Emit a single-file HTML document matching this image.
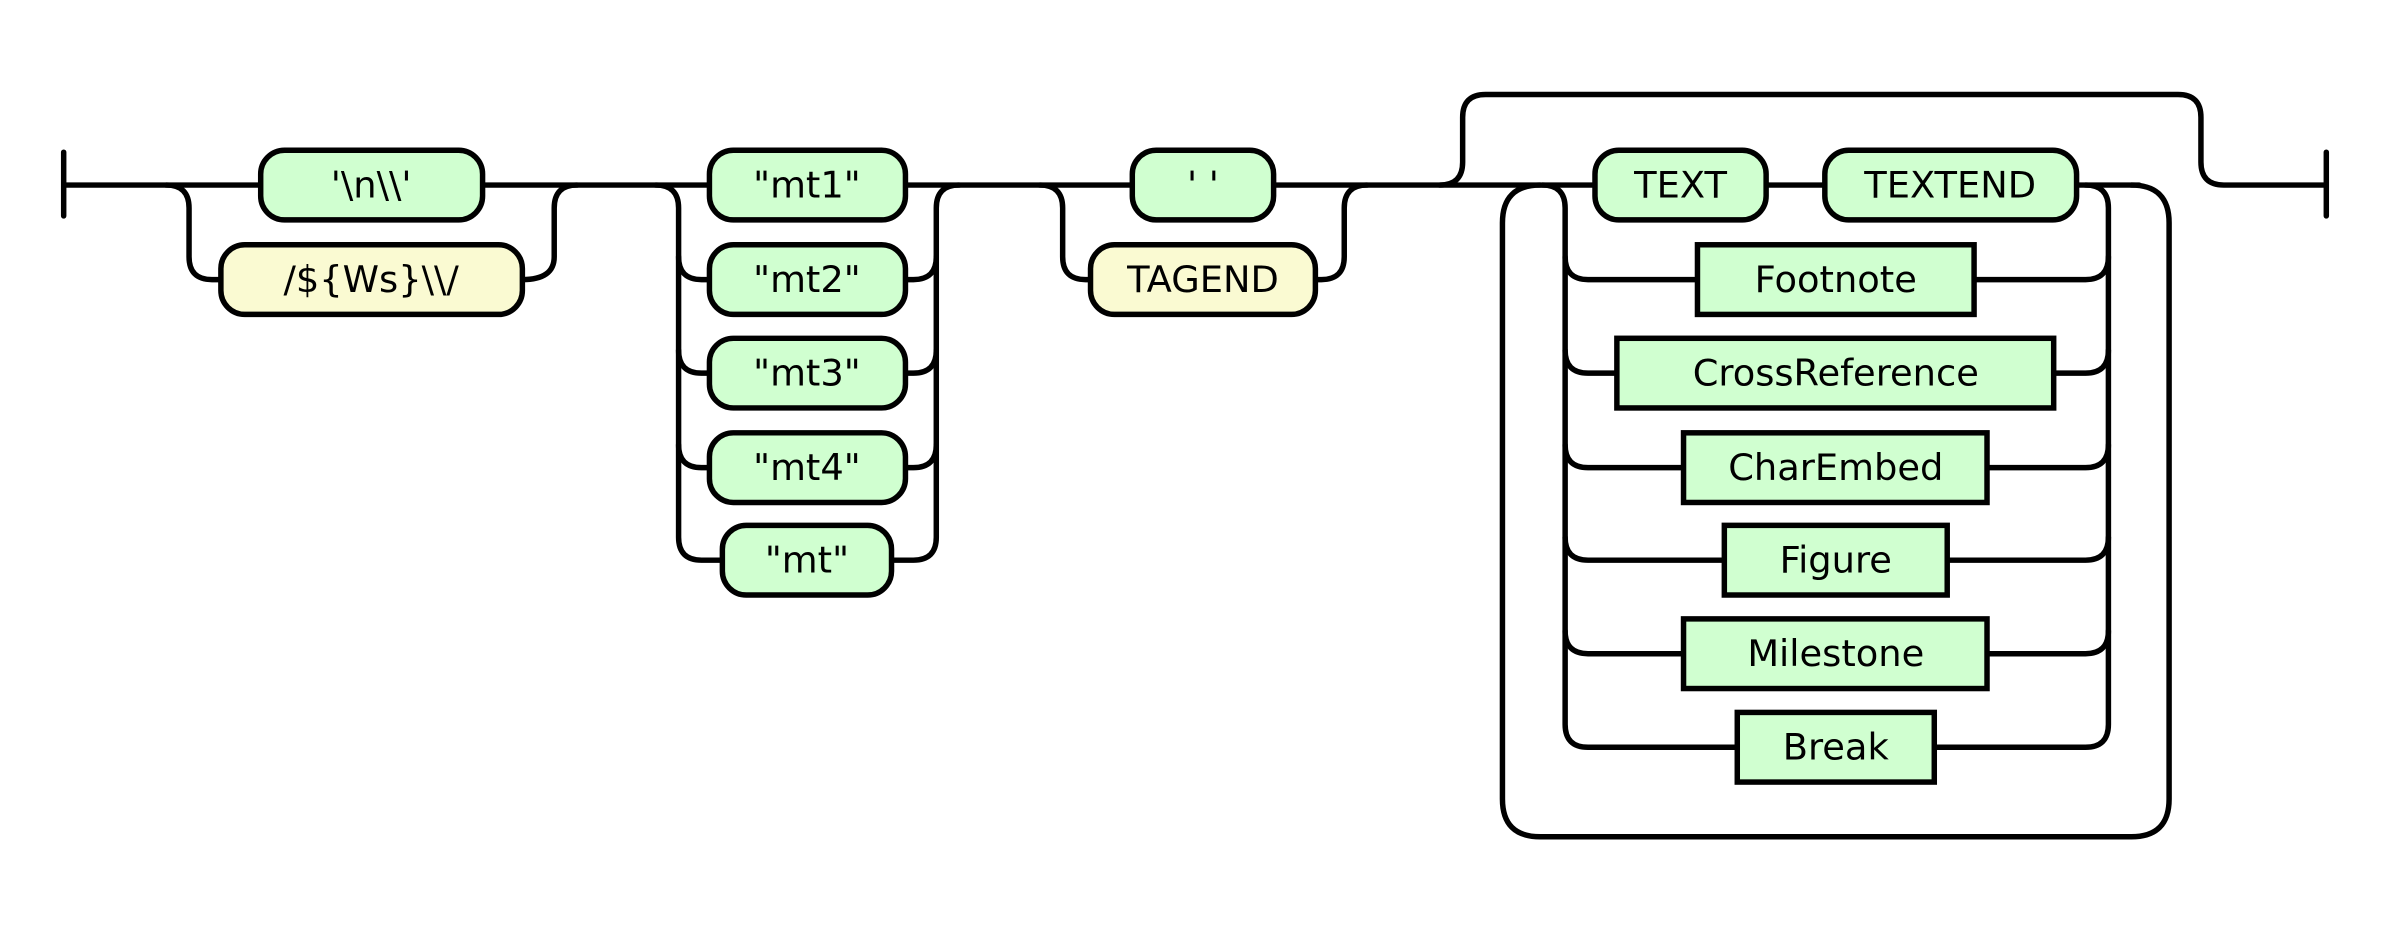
<!DOCTYPE html>
<html><head><meta charset="utf-8"><style>
html,body{margin:0;padding:0;background:#fff;}
svg{display:block}
text{font-family:"DejaVu Sans","Liberation Sans",sans-serif;font-size:37px;fill:#000;text-anchor:middle;dominant-baseline:central}
</style></head><body>
<svg width="2386" height="931" viewBox="0 0 2386 931" xmlns="http://www.w3.org/2000/svg">
<g transform="scale(0.995)">
<g fill="none" stroke="#000" stroke-width="5.5" stroke-linecap="round" stroke-linejoin="round">
<path d="M64 153 V217 M64 186 H262"/>
<path d="M485 186 H1138"/>
<path d="M167 186 Q190 186 190 209 V258 Q190 281 213 281 H222"/>
<path d="M525 281 Q557 281 557 258 V209 Q557 186 580 186"/>
<path d="M659 186 Q682 186 682 209 V540 Q682 563 705 563 H726"/>
<path d="M682 258 Q682 281 705 281 H713 M682 352 Q682 375 705 375 H713 M682 447 Q682 470 705 470 H713"/>
<path d="M896 563 H918 Q941 563 941 540 V209 Q941 186 964 186"/>
<path d="M910 281 H918 Q941 281 941 258 M910 375 H918 Q941 375 941 352 M910 470 H918 Q941 470 941 447"/>
<path d="M1280 186 H1603"/>
<path d="M1045 186 Q1068 186 1068 209 V258 Q1068 281 1091 281 H1096"/>
<path d="M1322 281 H1328 Q1351 281 1351 258 V209 Q1351 186 1374 186"/>
<path d="M1447 186 Q1470 186 1470 163 V118 Q1470 95 1493 95 H2189 Q2212 95 2212 118 V163 Q2212 186 2235 186 H2338 M2338 153 V217"/>
<path d="M1775 186 H1834 M2087 186 H2150"/>
<path d="M1550 186 Q1573 186 1573 209 V728 Q1573 751 1596 751 H1746"/>
<path d="M1573 258 Q1573 281 1596 281 H1706 M1573 352 Q1573 375 1596 375 H1625 M1573 447 Q1573 470 1596 470 H1692 M1573 540 Q1573 563 1596 563 H1733 M1573 634 Q1573 657 1596 657 H1692"/>
<path d="M2096 186 Q2119 186 2119 209 V728 Q2119 751 2096 751 H1944"/>
<path d="M2119 258 Q2119 281 2096 281 H1984 M2119 352 Q2119 375 2096 375 H2064 M2119 447 Q2119 470 2096 470 H1997 M2119 540 Q2119 563 2096 563 H1957 M2119 634 Q2119 657 2096 657 H1997"/>
<path d="M2142 186 Q2180 186 2180 224 V803 Q2180 841 2142 841 H1548 Q1510 841 1510 803 V224 Q1510 186 1548 186"/>
</g>
<g stroke="#000" stroke-width="5.5">
<rect x="262" y="151" width="223" height="70" rx="24" fill="#d0ffd0"/>
<rect x="222" y="246" width="303" height="70" rx="24" fill="#fafad2"/>
<rect x="713" y="151" width="197" height="70" rx="24" fill="#d0ffd0"/>
<rect x="713" y="246" width="197" height="70" rx="24" fill="#d0ffd0"/>
<rect x="713" y="340" width="197" height="70" rx="24" fill="#d0ffd0"/>
<rect x="713" y="435" width="197" height="70" rx="24" fill="#d0ffd0"/>
<rect x="726" y="528" width="170" height="70" rx="24" fill="#d0ffd0"/>
<rect x="1138" y="151" width="142" height="70" rx="24" fill="#d0ffd0"/>
<rect x="1096" y="246" width="226" height="70" rx="24" fill="#fafad2"/>
<rect x="1603" y="151" width="172" height="70" rx="24" fill="#d0ffd0"/>
<rect x="1834" y="151" width="253" height="70" rx="24" fill="#d0ffd0"/>
<rect x="1706" y="246" width="278" height="70" fill="#d0ffd0"/>
<rect x="1625" y="340" width="439" height="70" fill="#d0ffd0"/>
<rect x="1692" y="435" width="305" height="70" fill="#d0ffd0"/>
<rect x="1733" y="528" width="224" height="70" fill="#d0ffd0"/>
<rect x="1692" y="622" width="305" height="70" fill="#d0ffd0"/>
<rect x="1746" y="716" width="198" height="70" fill="#d0ffd0"/>
</g>
<text x="373" y="186">'\n\\'</text>
<text x="373" y="281">/${Ws}\\/</text>
<text x="811" y="186">"mt1"</text>
<text x="811" y="281">"mt2"</text>
<text x="811" y="375">"mt3"</text>
<text x="811" y="470">"mt4"</text>
<text x="811" y="563">"mt"</text>
<text x="1209" y="186">' '</text>
<text x="1209" y="281">TAGEND</text>
<text x="1689" y="186">TEXT</text>
<text x="1960" y="186">TEXTEND</text>
<text x="1845" y="281">Footnote</text>
<text x="1845" y="375">CrossReference</text>
<text x="1845" y="470">CharEmbed</text>
<text x="1845" y="563">Figure</text>
<text x="1845" y="657">Milestone</text>
<text x="1845" y="751">Break</text>
</g>
</svg>
</body></html>
